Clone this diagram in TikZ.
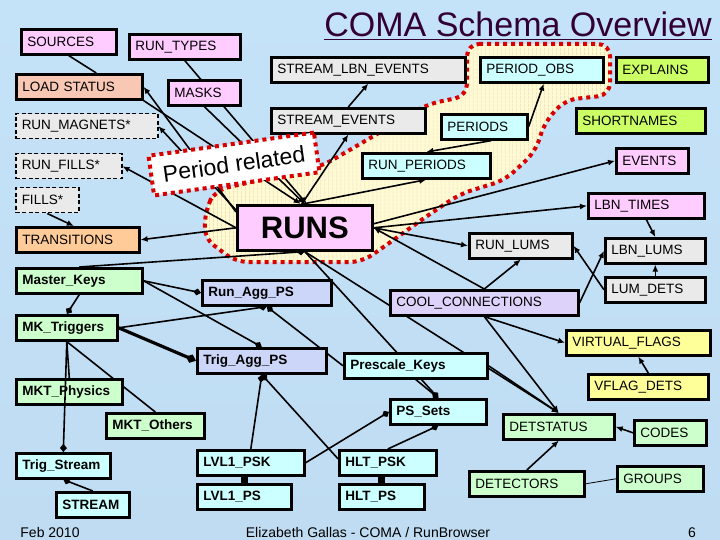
\documentclass[tikz,border=0pt]{standalone}
\usepackage{fontspec}
\setmainfont{Liberation Sans}
\usetikzlibrary{arrows.meta,patterns.meta}

\pgfdeclarelayer{back}
\pgfdeclarelayer{wires}
\pgfsetlayers{back,wires,main}

\definecolor{pinkbg}{HTML}{FFCCFF}
\definecolor{salmonbg}{HTML}{F9C8B4}
\definecolor{greybg}{HTML}{EAEAEA}
\definecolor{orangebg}{HTML}{FFCC99}
\definecolor{greenbg}{HTML}{CCFFCC}
\definecolor{cyanbg}{HTML}{CCFFFF}
\definecolor{limebg}{HTML}{CCFF66}
\definecolor{aggbg}{HTML}{CCD6F8}
\definecolor{coolbg}{HTML}{DDD2FA}
\definecolor{yellowbg}{HTML}{FFFF99}
\definecolor{titlecol}{HTML}{330033}
\definecolor{zonefill}{HTML}{FFFAD2}
\definecolor{zonehatch}{HTML}{E2D2A6}
\definecolor{dotred}{HTML}{D80000}
\definecolor{skytop}{HTML}{C4E2F8}
\definecolor{skymid}{HTML}{F4F9FF}
\definecolor{skybot}{HTML}{BFDCF2}

\newcommand\boxfont{\fontsize{13.5}{15}\selectfont}

\begin{document}
\begin{tikzpicture}[
  x=1pt,y=-1pt,
  box/.style={draw,line width=2.6pt,anchor=north west,minimum height=25pt,
              inner xsep=6pt,inner ysep=1pt,align=left,font=\boxfont},
  bbox/.style={box,font=\boxfont\bfseries},
  dbox/.style={box,line width=1.5pt,dash pattern=on 4pt off 2.5pt,fill=greybg},
  perbox/.style={draw=dotred,line width=4pt,dash pattern=on 4pt off 4pt,fill=white,
              rotate=8,minimum width=167pt,minimum height=40pt,inner sep=0pt,
              font=\fontsize{23}{26}\selectfont},
  zone/.style={draw=dotred,line width=4pt,dash pattern=on 4pt off 4pt,
              rounded corners=12pt,preaction={fill=zonefill},
              pattern={Lines[angle=90,distance=4pt,line width=.6pt]},
              pattern color=zonehatch},
  wire/.style={line width=1.6pt},
  ar/.style={wire,-{Latex[length=7pt,width=6pt]}},
  dm/.style={wire,-{Diamond[length=8pt,width=7pt]}},
  dmthick/.style={line width=3.2pt,-{Diamond[length=11pt,width=9pt]}},
  sq/.style={wire,-{Square[length=6pt,width=7pt]}},
  note/.style={anchor=base,font=\fontsize{14}{16}\selectfont}
]
\useasboundingbox (0,0) rectangle (720,540);

\begin{pgfonlayer}{back}
\shade[top color=skytop,middle color=skymid,bottom color=skybot] (0,0) rectangle (720,540);
\path[zone] (467,44) -- (610,44) -- (610,95) -- (565,100) -- (545,122) -- (535,152)
  -- (505,180) -- (460,194) -- (427,216) -- (385,246) -- (362,262) -- (236,262)
  -- (204,238) -- (206,208) -- (216,190) -- (322,166) -- (360,144) -- (428,104)
  -- (467,96) -- cycle;
\end{pgfonlayer}

\node[anchor=base,text=titlecol,font=\fontsize{34}{40}\selectfont] (title) at (518,37)
  {\underline{COMA Schema Overview}};

\node[box,fill=pinkbg,text width=83pt] (sources) at (20,28) {SOURCES};
\node[box,fill=pinkbg,text width=99pt] (runtypes) at (128,33) {RUN\_TYPES};
\node[box,fill=salmonbg,text width=114pt] (loadstatus) at (15,73) {LOAD STATUS};
\node[box,fill=pinkbg,text width=60pt] (masks) at (167,79) {MASKS};
\node[dbox,text width=130pt] (runmagnets) at (15,113) {RUN\_MAGNETS*};
\node[dbox,text width=94pt] (runfills) at (15,153) {RUN\_FILLS*};
\node[dbox,text width=51pt] (fills) at (15,187) {FILLS*};
\node[box,fill=orangebg,text width=111pt] (transitions) at (15,226) {TRANSITIONS};
\node[bbox,fill=greenbg,text width=114pt] (masterkeys) at (15,267) {Master\_Keys};
\node[bbox,fill=greenbg,text width=89pt] (mktriggers) at (15,314) {MK\_Triggers};
\node[bbox,fill=greenbg,text width=94pt] (mktphysics) at (15,378) {MKT\_Physics};
\node[bbox,fill=greenbg,text width=86pt] (mktothers) at (105,412) {MKT\_Others};
\node[bbox,fill=cyanbg,text width=82pt] (trigstream) at (15,452) {Trig\_Stream};
\node[bbox,fill=cyanbg,text width=61pt] (stream) at (55,491) {STREAM};

\node[box,fill=greybg,text width=182pt] (streamlbn) at (270,56) {STREAM\_LBN\_EVENTS};
\node[box,fill=greybg,text width=142pt] (streamev) at (270,107) {STREAM\_EVENTS};
\node[box,fill=cyanbg,text width=111pt] (periodobs) at (479,56) {PERIOD\_OBS};
\node[box,fill=limebg,text width=80pt] (explains) at (615,56) {EXPLAINS};
\node[box,fill=cyanbg,text width=74pt] (periods) at (440,113) {PERIODS};
\node[box,fill=limebg,text width=117pt] (shortnames) at (575,107) {SHORTNAMES};
\node[box,fill=cyanbg,text width=116pt] (runperiods) at (361,152) {RUN\_PERIODS};
\node[box,fill=pinkbg,text width=60pt] (events) at (615,147) {EVENTS};
\node[box,fill=pinkbg,text width=104pt] (lbntimes) at (587,192) {LBN\_TIMES};
\node[box,fill=pinkbg,minimum width=135pt,minimum height=45pt,align=center,
      font=\fontsize{31}{34}\selectfont\bfseries] (runs) at (236,204) {RUNS};
\node[box,fill=greybg,text width=91pt] (runlums) at (468,232) {RUN\_LUMS};
\node[box,fill=greybg,text width=88pt] (lbnlums) at (604,237) {LBN\_LUMS};
\node[box,fill=greybg,text width=88pt] (lumdets) at (604,276) {LUM\_DETS};
\node[box,fill=coolbg,text width=176pt] (coolconn) at (389,289) {COOL\_CONNECTIONS};
\node[bbox,fill=aggbg,text width=117pt] (runaggps) at (201,279) {Run\_Agg\_PS};
\node[box,fill=yellowbg,text width=132pt] (virtflags) at (565,329) {VIRTUAL\_FLAGS};
\node[bbox,fill=aggbg,text width=117pt] (trigaggps) at (196,347) {Trig\_Agg\_PS};
\node[bbox,fill=cyanbg,text width=131pt] (prescale) at (343,352) {Prescale\_Keys};
\node[box,fill=yellowbg,text width=108pt] (vflagdets) at (587,373) {VFLAG\_DETS};
\node[bbox,fill=cyanbg,text width=84pt] (pssets) at (389,398) {PS\_Sets};
\node[box,fill=greenbg,text width=99pt] (detstatus) at (502,413) {DETSTATUS};
\node[box,fill=greenbg,text width=60pt] (codes) at (633,419) {CODES};
\node[bbox,fill=cyanbg,text width=95pt] (lvl1psk) at (196,449) {LVL1\_PSK};
\node[bbox,fill=cyanbg,text width=85pt] (hltpsk) at (338,449) {HLT\_PSK};
\node[bbox,fill=cyanbg,text width=82pt] (lvl1ps) at (196,483) {LVL1\_PS};
\node[bbox,fill=cyanbg,text width=73pt] (hltps) at (338,483) {HLT\_PS};
\node[box,fill=greenbg,text width=103pt] (detectors) at (468,470) {DETECTORS};
\node[box,fill=greenbg,text width=74pt] (groups) at (616,465) {GROUPS};

\node[perbox] (period) at (234,164) {Period related};

\node[note] (datenote) at (50,537) {Feb 2010};
\node[note] (authornote) at (368,537) {Elizabeth Gallas - COMA / RunBrowser};
\node[note] (pagenum) at (692,537) {6};

\begin{pgfonlayer}{wires}
\draw[wire] (sources.south) -- ([xshift=17pt]loadstatus.north);
\draw[ar] (runtypes.south) -- ([xshift=2pt]runs.north);
\draw[ar] (masks.south) -- (runs.north);
\draw[ar] (loadstatus.south east) -- ([xshift=-4pt]runs.north);
\draw[ar] ([yshift=-8pt]runs.north west) -- (loadstatus.east);
\draw[ar] ([yshift=-6pt]runs.north west) -- (runmagnets.east);
\draw[ar] (runs.west) -- (runfills.east);
\draw[ar] (runs.west) -- (transitions.east);
\draw[ar] (fills.south) -- ([xshift=-4pt]transitions.north);
\draw[ar] ([xshift=-3pt]runs.north) -- (streamev.south);
\draw[ar] ([xshift=-2pt]runs.north) -- (runperiods.south);
\draw[ar] (streamev.north) -- (streamlbn.south);
\draw[ar] (periods.east) -- ([xshift=2pt]periodobs.south);
\draw[ar] ([xshift=7pt]periods.south) -- (runperiods.north);
\draw[ar] ([yshift=4pt]runs.east) -- (events.west);
\draw[ar] (runs.east) -- (lbntimes.west);
\draw[ar] (runs.east) -- (runlums.west);
\draw[ar] (coolconn.north) -- (runs.east);
\draw[ar] (coolconn.north) -- (runlums.south);
\draw[ar] (coolconn.east) -- (lbnlums.west);
\draw[ar] (lumdets.west) -- (runlums.east);
\draw[ar] (lbntimes.south) -- (lbnlums.north);
\draw[ar] (lumdets.north) -- (lbnlums.south);
\draw[ar] (coolconn.south) -- (virtflags.west);
\draw[ar] (coolconn.south) -- (detstatus.north);
\draw[ar] (prescale.east) -- (detstatus.north);
\draw[ar] (runs.south) -- (detstatus.north);
\draw[ar] (vflagdets.north) -- (virtflags.south);
\draw[ar] (codes.west) -- (detstatus.east);
\draw[ar] (detectors.north) -- (detstatus.south);
\draw[line width=.8pt] (detectors.east) -- (groups.west);
\draw[dm] (masterkeys.north) -- (runs.south);
\draw[dm] (runs.south) -- (pssets.north);
\draw[dm] (masterkeys.east) -- (runaggps.west);
\draw[dm] (masterkeys.east) -- (trigaggps.north);
\draw[dm] (masterkeys.south) -- (mktriggers.north);
\draw[dm] (mktriggers.east) -- (runaggps.south);
\draw[dmthick] (mktriggers.east) -- (trigaggps.west);
\draw[wire] (mktriggers.south) -- (mktothers.north);
\draw[dm] (stream.north) -- (trigstream.south);
\draw[dm] (prescale.west) -- (runaggps.south);
\draw[dm] (lvl1psk.north) -- (trigaggps.south);
\draw[dm] ([yshift=4pt]hltpsk.west) -- (trigaggps.south);
\draw[dm] (lvl1psk.east) -- (pssets.west);
\draw[dm] (hltpsk.north) -- (pssets.south);
\draw[dm] (prescale.south) -- (pssets.north);
\draw[sq] (lvl1psk.south -| lvl1ps.north) -- (lvl1ps.north);
\draw[sq] (hltpsk.south -| hltps.north) -- (hltps.north);
\end{pgfonlayer}

\draw[wire] (mktriggers.south) -- (mktphysics.north);
\draw[dm] (mktriggers.south) -- (trigstream.north);
\end{tikzpicture}
\end{document}
